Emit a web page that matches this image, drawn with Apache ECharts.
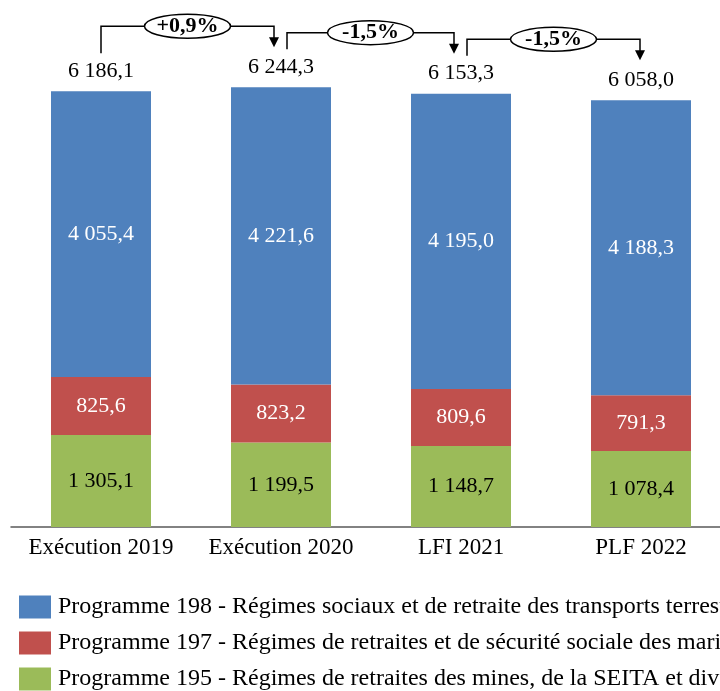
<!DOCTYPE html>
<html>
<head>
<meta charset="utf-8">
<script src="https://cdn.jsdelivr.net/npm/echarts@6/dist/echarts.min.js"></script>
<style>
  html, body { margin: 0; padding: 0; background: #fff; overflow: hidden; }
  #chart { width: 731px; height: 700px; }
</style>
</head>
<body>
<div id="chart"></div>
<script>
var categories = ['Exécution 2019', 'Exécution 2020', 'LFI 2021', 'PLF 2022'];
var p195 = [1305.1, 1199.5, 1148.7, 1078.4];
var p197 = [825.6, 823.2, 809.6, 791.3];
var p198 = [4055.4, 4221.6, 4195.0, 4188.3];
var names = [
  'Programme 198 - Régimes sociaux et de retraite des transports terrestres',
  'Programme 197 - Régimes de retraites et de sécurité sociale des marins',
  'Programme 195 - Régimes de retraites des mines, de la SEITA et divers'
];

var FONT = '"Liberation Serif", serif';

function fr(v) {
  var s = v.toFixed(1).split('.');
  return s[0].replace(/\B(?=(\d{3})+(?!\d))/g, ' ') + ',' + s[1];
}

var totals = categories.map(function (c, i) {
  return Math.round((p195[i] + p197[i] + p198[i]) * 10) / 10;
});

var chart = echarts.init(document.getElementById('chart'));

function segLabel(color) {
  return {
    show: true,
    position: 'inside',
    color: color,
    fontFamily: FONT,
    fontSize: 22,
    formatter: function (p) { return fr(p.value); }
  };
}

chart.setOption({
  animation: false,
  color: ['#9BBB59', '#C0504D', '#4F81BD'],
  grid: { left: 11, top: 34, width: 720, height: 493 },
  legend: {
    orient: 'vertical',
    left: 19,
    top: 595,
    padding: 0,
    itemWidth: 32,
    itemHeight: 23,
    itemGap: 12,
    icon: 'rect',
    data: [names[0], names[1], names[2]],
    textStyle: { fontFamily: FONT, fontSize: 24, color: '#000', padding: [0, 0, 0, 2] }
  },
  xAxis: {
    type: 'category',
    data: categories,
    axisTick: { show: false },
    axisLine: { lineStyle: { color: '#595959', width: 1.5 } },
    axisLabel: { interval: 0, fontFamily: FONT, fontSize: 23, color: '#000', margin: 9 }
  },
  yAxis: {
    type: 'value',
    min: 0,
    max: 7000,
    show: false,
    splitLine: { show: false }
  },
  series: [
    { name: names[2], type: 'bar', stack: 't', barWidth: 100, data: p195, label: segLabel('#000') },
    { name: names[1], type: 'bar', stack: 't', barWidth: 100, data: p197, label: segLabel('#fff') },
    { name: names[0], type: 'bar', stack: 't', barWidth: 100, data: p198, label: segLabel('#fff') },
    {
      name: 'total', type: 'bar', stack: 't', barWidth: 100,
      data: totals.map(function () { return 0; }),
      itemStyle: { color: 'transparent' },
      label: {
        show: true, position: 'top', distance: 9,
        color: '#000', fontFamily: FONT, fontSize: 22,
        formatter: function (p) { return fr(totals[p.dataIndex]); }
      }
    }
  ]
});

// annotations: evolution between consecutive totals
var g = [];
for (var i = 0; i < totals.length - 1; i++) {
  var a = chart.convertToPixel({ seriesIndex: 0 }, [i, totals[i]]);
  var b = chart.convertToPixel({ seriesIndex: 0 }, [i + 1, totals[i + 1]]);
  var x1 = a[0] + (i === 0 ? 0 : 6);
  var x2 = b[0] - (i === 2 ? 1 : 7);
  var y1 = a[1] - 38;
  var hy = b[1] - 61;
  var tip = b[1] - 40;
  var pct = (totals[i + 1] / totals[i] - 1) * 100;
  var txt = (pct > 0 ? '+' : '') + pct.toFixed(1).replace('.', ',') + '%';
  g.push({
    type: 'polyline',
    shape: { points: [[x1, y1], [x1, hy], [x2, hy], [x2, tip - 9]] },
    style: { stroke: '#000', lineWidth: 1.5, fill: null }
  });
  g.push({
    type: 'polygon',
    shape: { points: [[x2 - 5, tip - 10], [x2 + 5, tip - 10], [x2, tip]] },
    style: { fill: '#000' }
  });
  var cx = (x1 + x2) / 2;
  g.push({
    type: 'ellipse',
    shape: { cx: cx, cy: hy, rx: 43, ry: 12 },
    style: { fill: '#fff', stroke: '#000', lineWidth: 1.5 }
  });
  g.push({
    type: 'text',
    x: cx, y: hy,
    style: {
      text: txt, fill: '#000', fontFamily: FONT, fontSize: 22, fontWeight: 'bold',
      align: 'center', verticalAlign: 'middle'
    }
  });
}
chart.setOption({ graphic: g });
</script>
</body>
</html>
